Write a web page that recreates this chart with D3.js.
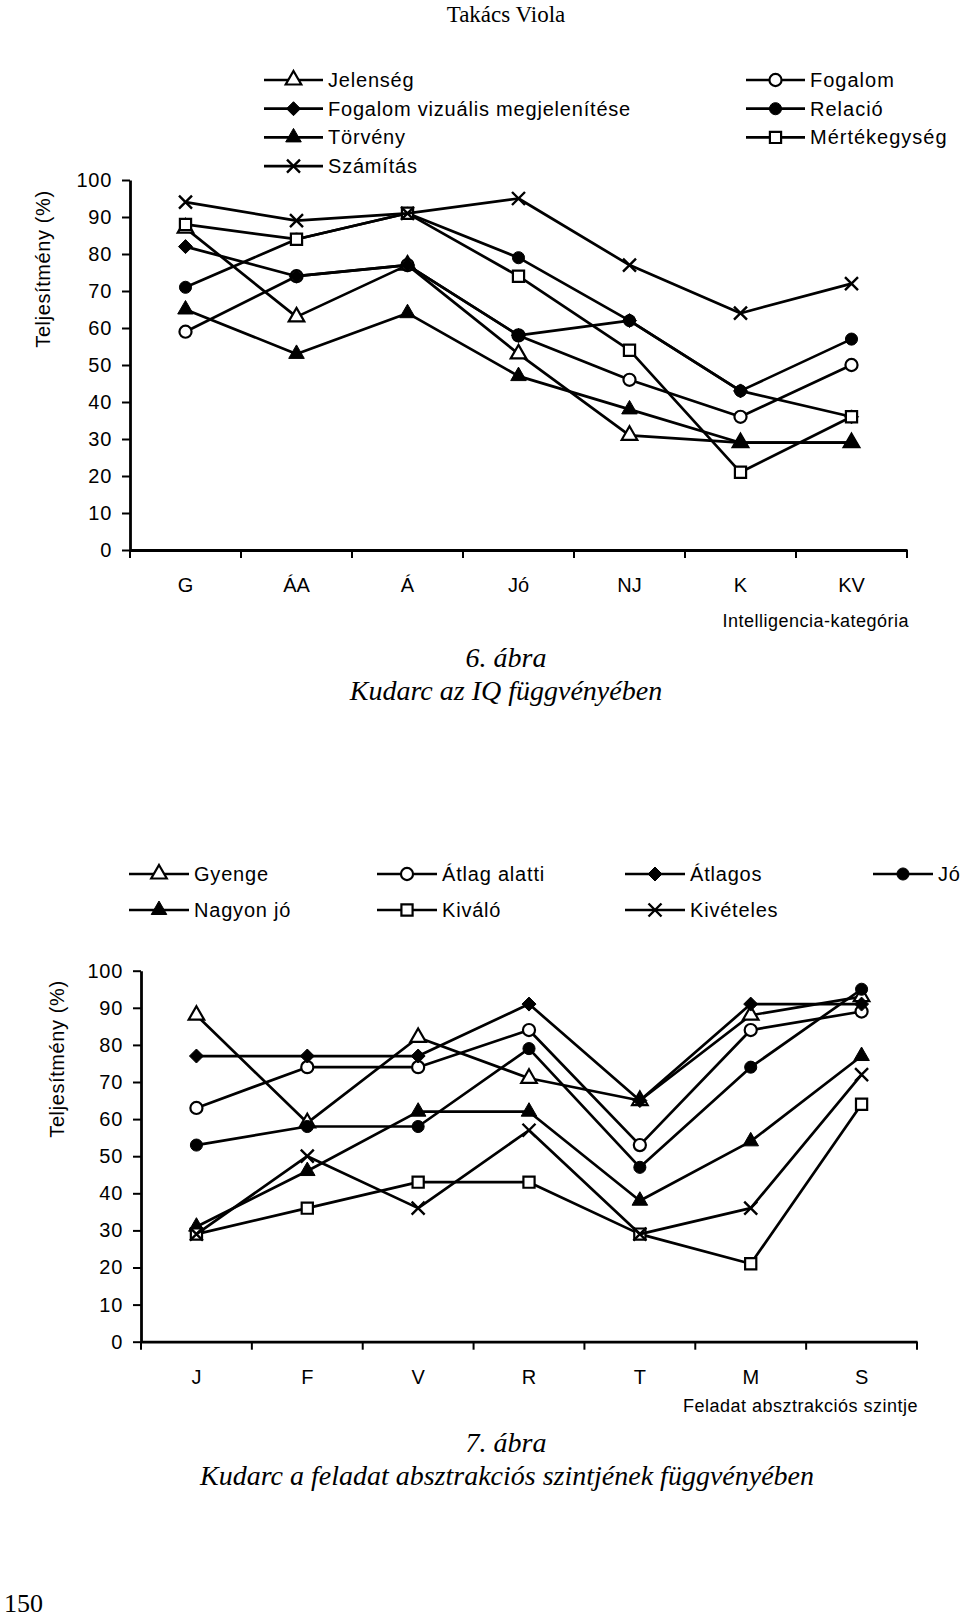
<!DOCTYPE html>
<html>
<head>
<meta charset="utf-8">
<script src="https://cdn.jsdelivr.net/npm/d3@7"></script>
<style>
  html, body { margin: 0; padding: 0; background: #fff; }
  svg { display: block; }
  .sans { font-family: "Liberation Sans", Arial, sans-serif; }
  .serif { font-family: "Liberation Serif", "Times New Roman", serif; }
</style>
</head>
<body>
<svg id="page" width="960" height="1620"></svg>
<script>
// ---------- DATA: chart 6 ----------
const categories1 = ["G", "ÁA", "Á", "Jó", "NJ", "K", "KV"];
const jelenseg      = [87, 63, 77, 53, 31, 29, 29];
const fogalom       = [59, 74, 77, 58, 46, 36, 50];
const vizualis      = [82, 74, 77, 58, 62, 43, 36];
const relacio       = [71, 84, 91, 79, 62, 43, 57];
const torveny       = [65, 53, 64, 47, 38, 29, 29];
const mertekegyseg  = [88, 84, 91, 74, 54, 21, 36];
const szamitas      = [94, 89, 91, 95, 77, 64, 72];

// ---------- DATA: chart 7 ----------
const categories2 = ["J", "F", "V", "R", "T", "M", "S"];
const gyenge      = [88, 59, 82, 71, 65, 88, 93];
const atlagAlatti = [63, 74, 74, 84, 53, 84, 89];
const atlagos     = [77, 77, 77, 91, 65, 91, 91];
const jo          = [53, 58, 58, 79, 47, 74, 95];
const nagyonJo    = [31, 46, 62, 62, 38, 54, 77];
const kivalo      = [29, 36, 43, 43, 29, 21, 64];
const kiveteles   = [29, 50, 36, 57, 29, 36, 72];

const yTicks = [0, 10, 20, 30, 40, 50, 60, 70, 80, 90, 100];

// ---------- texts ----------
const pageHeader = "Takács Viola";
const yTitle = "Teljesítmény (%)";
const xTitle1 = "Intelligencia-kategória";
const xTitle2 = "Feladat absztrakciós szintje";
const caption1a = "6. ábra";
const caption1b = "Kudarc az IQ függvényében";
const caption2a = "7. ábra";
const caption2b = "Kudarc a feladat absztrakciós szintjének függvényében";
const pageNumber = "150";

// ---------- helpers ----------
const svg = d3.select("#page");
svg.append("rect").attr("width", 960).attr("height", 1620).attr("fill", "#fff");

function markerPath(type) {
  switch (type) {
    case "triangle": return d3.symbol(d3.symbolTriangle, 105)();
    case "circle":   return d3.symbol(d3.symbolCircle, 115)();
    case "square":   return d3.symbol(d3.symbolSquare, 125)();
    case "diamond":  return "M0,-7L7,0L0,7L-7,0Z";
    case "x":        return "M-6.5,-6.5L6.5,6.5M6.5,-6.5L-6.5,6.5";
  }
}
function styleMarker(sel, m) {
  if (m.type === "x") {
    sel.attr("fill", "none").attr("stroke", "#000").attr("stroke-width", 2.4);
  } else if (m.filled) {
    sel.attr("fill", "#000").attr("stroke", "#000").attr("stroke-width", 1);
  } else {
    sel.attr("fill", "#fff").attr("stroke", "#000").attr("stroke-width", 2.2);
  }
}
function drawMarker(g, x, y, m) {
  const p = g.append("path").attr("d", markerPath(m.type))
    .attr("transform", `translate(${x},${y})`);
  styleMarker(p, m);
}

function drawChart(cfg) {
  const g = svg.append("g");
  const x = d3.scaleBand().domain(cfg.categories).range([cfg.x0, cfg.x1]).paddingInner(0).paddingOuter(0);
  const y = d3.scaleLinear().domain([0, 100]).range([cfg.yBottom, cfg.yTop]);

  // y axis
  const ya = g.append("g").attr("transform", `translate(${cfg.x0},0)`)
    .call(d3.axisLeft(y).tickValues(yTicks).tickSize(8).tickSizeOuter(0).tickPadding(10));
  ya.select(".domain").attr("stroke-width", 2.8);
  ya.selectAll(".tick line").attr("stroke-width", 2);
  ya.selectAll("text").attr("class", "sans").attr("font-size", 20).attr("fill", "#000")
    .attr("letter-spacing", 0.7);

  // x axis
  const xa = g.append("g").attr("transform", `translate(0,${cfg.yBottom})`)
    .call(d3.axisBottom(x).tickSize(0).tickSizeOuter(0));
  xa.select(".domain").attr("stroke-width", 2.8);
  xa.selectAll("text").attr("class", "sans").attr("font-size", 20).attr("fill", "#000")
    .attr("y", cfg.xLabelOffset).attr("dy", "0.35em");
  const edges = cfg.categories.map(d => x(d)).concat([x.range()[1]]);
  xa.selectAll("line.edge").data(edges).join("line").attr("class", "edge")
    .attr("x1", d => d).attr("x2", d => d).attr("y1", 0).attr("y2", 8)
    .attr("stroke", "#000").attr("stroke-width", 2);

  // y title
  g.append("text").attr("class", "sans").attr("font-size", 20).attr("letter-spacing", 0.6)
    .attr("text-anchor", "middle").attr("dominant-baseline", "central")
    .attr("transform", `translate(${cfg.yTitleX},${cfg.yTitleY}) rotate(-90)`)
    .text(yTitle);

  // x title
  g.append("text").attr("class", "sans").attr("font-size", 18).attr("letter-spacing", 0.5)
    .attr("text-anchor", "end").attr("dominant-baseline", "central")
    .attr("x", cfg.xTitleX).attr("y", cfg.xTitleY).text(cfg.xTitle);

  // series lines then markers, drawn in series order
  const line = d3.line().x((d, i) => x(cfg.categories[i]) + x.bandwidth() / 2).y(d => y(d));
  cfg.series.forEach(s => {
    g.append("path").datum(s.values).attr("d", line)
      .attr("fill", "none").attr("stroke", "#000").attr("stroke-width", 2.7)
      .attr("stroke-linejoin", "round");
    s.values.forEach((v, i) => {
      drawMarker(g, x(cfg.categories[i]) + x.bandwidth() / 2, y(v), s);
    });
  });

  // legend
  cfg.legend.forEach(L => {
    const s = cfg.series.find(d => d.name === L.name);
    g.append("line").attr("x1", L.x).attr("x2", L.x + L.len).attr("y1", L.y).attr("y2", L.y)
      .attr("stroke", "#000").attr("stroke-width", 2.7);
    drawMarker(g, L.x + L.len / 2, L.y, s);
    g.append("text").attr("class", "sans").attr("font-size", L.fs).attr("letter-spacing", L.ls)
      .attr("dominant-baseline", "central").attr("x", L.x + L.len + 5).attr("y", L.y)
      .text(s.name);
  });
}

// ---------- header ----------
svg.append("text").attr("class", "serif").attr("font-size", 23).attr("text-anchor", "middle")
  .attr("dominant-baseline", "central").attr("x", 506).attr("y", 14).text(pageHeader);

// ---------- chart 6 ----------
const series1 = [
  { name: "Jelenség", values: jelenseg, type: "triangle", filled: false },
  { name: "Fogalom", values: fogalom, type: "circle", filled: false },
  { name: "Fogalom vizuális megjelenítése", values: vizualis, type: "diamond", filled: true },
  { name: "Relació", values: relacio, type: "circle", filled: true },
  { name: "Törvény", values: torveny, type: "triangle", filled: true },
  { name: "Mértékegység", values: mertekegyseg, type: "square", filled: false },
  { name: "Számítás", values: szamitas, type: "x", filled: false }
];
const leftCol1 = ["Jelenség", "Fogalom vizuális megjelenítése", "Törvény", "Számítás"];
const rightCol1 = ["Fogalom", "Relació", "Mértékegység"];
const legend1 = [];
leftCol1.forEach((n, i) => legend1.push({ name: n, x: 264, len: 59, y: 80 + i * 28.7, fs: 20, ls: 0.8 }));
rightCol1.forEach((n, i) => legend1.push({ name: n, x: 746, len: 59, y: 80 + i * 28.7, fs: 20, ls: 1.0 }));

drawChart({
  categories: categories1, series: series1, legend: legend1,
  x0: 130, x1: 907, yTop: 180, yBottom: 550, xLabelOffset: 35,
  yTitleX: 43, yTitleY: 269, xTitle: xTitle1, xTitleX: 909, xTitleY: 621
});

svg.append("text").attr("class", "serif").attr("font-style", "italic").attr("font-size", 28)
  .attr("text-anchor", "middle").attr("dominant-baseline", "central")
  .attr("x", 506).attr("y", 657).text(caption1a);
svg.append("text").attr("class", "serif").attr("font-style", "italic").attr("font-size", 28)
  .attr("text-anchor", "middle").attr("dominant-baseline", "central")
  .attr("x", 506).attr("y", 690).text(caption1b);

// ---------- chart 7 ----------
const series2 = [
  { name: "Gyenge", values: gyenge, type: "triangle", filled: false },
  { name: "Átlag alatti", values: atlagAlatti, type: "circle", filled: false },
  { name: "Átlagos", values: atlagos, type: "diamond", filled: true },
  { name: "Jó", values: jo, type: "circle", filled: true },
  { name: "Nagyon jó", values: nagyonJo, type: "triangle", filled: true },
  { name: "Kiváló", values: kivalo, type: "square", filled: false },
  { name: "Kivételes", values: kiveteles, type: "x", filled: false }
];
const legend2 = series2.map((s, i) => ({
  name: s.name, x: 129 + (i % 4) * 248, len: 60, y: i < 4 ? 874 : 910, fs: 20, ls: 0.8
}));

drawChart({
  categories: categories2, series: series2, legend: legend2,
  x0: 141, x1: 917, yTop: 970.7, yBottom: 1341.7, xLabelOffset: 35,
  yTitleX: 57, yTitleY: 1059, xTitle: xTitle2, xTitleX: 918, xTitleY: 1406
});

svg.append("text").attr("class", "serif").attr("font-style", "italic").attr("font-size", 28)
  .attr("text-anchor", "middle").attr("dominant-baseline", "central")
  .attr("x", 506).attr("y", 1442).text(caption2a);
svg.append("text").attr("class", "serif").attr("font-style", "italic").attr("font-size", 28)
  .attr("text-anchor", "middle").attr("dominant-baseline", "central")
  .attr("x", 507).attr("y", 1475).text(caption2b);

// ---------- page number ----------
svg.append("text").attr("class", "serif").attr("font-size", 26)
  .attr("dominant-baseline", "central").attr("x", 4).attr("y", 1603).text(pageNumber);
</script>
</body>
</html>
